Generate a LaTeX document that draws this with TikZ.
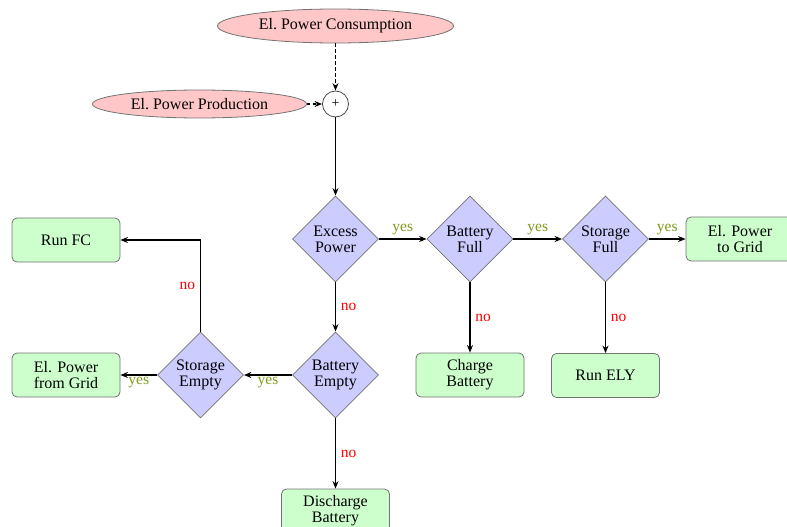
\documentclass[tikz,border=0pt]{standalone}
\usepackage{fontspec}
\setmainfont{Liberation Serif}
\usetikzlibrary{shapes.geometric,arrows.meta}
\definecolor{yescolor}{RGB}{125,155,25}
\begin{document}
\begin{tikzpicture}[x=1pt,y=-1pt,
  font=\fontsize{16}{16}\selectfont,
  source/.style={ellipse,draw=black!55,fill=red!22,line width=0.8pt,inner sep=0pt},
  sumnode/.style={circle,draw=black!70,fill=white,line width=0.8pt,minimum size=26pt,inner sep=0pt,font=\fontsize{14}{14}\selectfont},
  decision/.style={diamond,draw=black!55,fill=blue!20,line width=0.8pt,aspect=1,inner sep=0pt,minimum width=86pt,minimum height=86pt,align=center},
  action/.style={rectangle,rounded corners=5pt,draw=black!55,fill=green!20,line width=0.8pt,minimum width=108pt,minimum height=44pt,inner sep=0pt,align=center},
  flow/.style={-{Stealth[length=7.5pt,width=6pt]},line width=1.9pt},
  feed/.style={flow,dashed,dash pattern=on 3.5pt off 2.5pt},
  yeslbl/.style={text=yescolor,font=\fontsize{15.5}{16}\selectfont},
  nolbl/.style={text=red,font=\fontsize{15.5}{16}\selectfont}]
\useasboundingbox (0,0) rectangle (787,527);
\clip (0,0) rectangle (787,527);

% inputs
\node[source,minimum width=236pt,minimum height=34pt] (cons) at (335.5,26) {El.\ Power Consumption};
\node[source,minimum width=214pt,minimum height=28pt] (prod) at (199.5,104) {El.\ Power Production};
\node[sumnode] (sum) at (335.5,104) {+};

% decisions
\node[decision] (excess)  at (335.5,239) {Excess\\Power};
\node[decision] (batfull) at (470,239) {Battery\\Full};
\node[decision] (stfull)  at (605.5,239) {Storage\\Full};
\node[decision] (batempty) at (335.5,375) {Battery\\Empty};
\node[decision] (stempty)  at (200.5,375) {Storage\\Empty};

% actions
\node[action] (togrid)   at (740,239) {El. Power\\to Grid};
\node[action] (runely)   at (605.5,375.5) {Run ELY};
\node[action] (charge)   at (470,375) {Charge\\Battery};
\node[action] (runfc)    at (66,240) {Run FC};
\node[action] (fromgrid) at (66,375) {El. Power\\from Grid};
\node[action] (discharge) at (335.5,511) {Discharge\\Battery};

% connectors
\draw[feed] (cons) -- (sum);
\draw[feed] (prod) -- (sum);
\draw[flow] (sum) -- (excess);

\draw[flow] (excess) -- node[yeslbl,above] {yes} (batfull);
\draw[flow] (batfull) -- node[yeslbl,above] {yes} (stfull);
\draw[flow] (stfull) -- node[yeslbl,above] {yes} (togrid);

\draw[flow] (excess) -- node[nolbl,right,xshift=1pt] {no} (batempty);
\draw[flow] (batfull) -- node[nolbl,right,xshift=1pt] {no} (charge);
\draw[flow] (stfull) -- node[nolbl,right,xshift=1pt] {no} (runely);

\draw[flow] (batempty) -- node[yeslbl,below,yshift=2pt] {yes} (stempty);
\draw[flow] (stempty) -- node[yeslbl,below,yshift=2pt] {yes} (fromgrid);
\draw[flow] (stempty.north) |- node[nolbl,left,pos=0.25,xshift=-1pt] {no} (runfc.east);

\draw[flow] (batempty) -- node[nolbl,right,xshift=1pt] {no} (discharge);
\end{tikzpicture}
\end{document}
